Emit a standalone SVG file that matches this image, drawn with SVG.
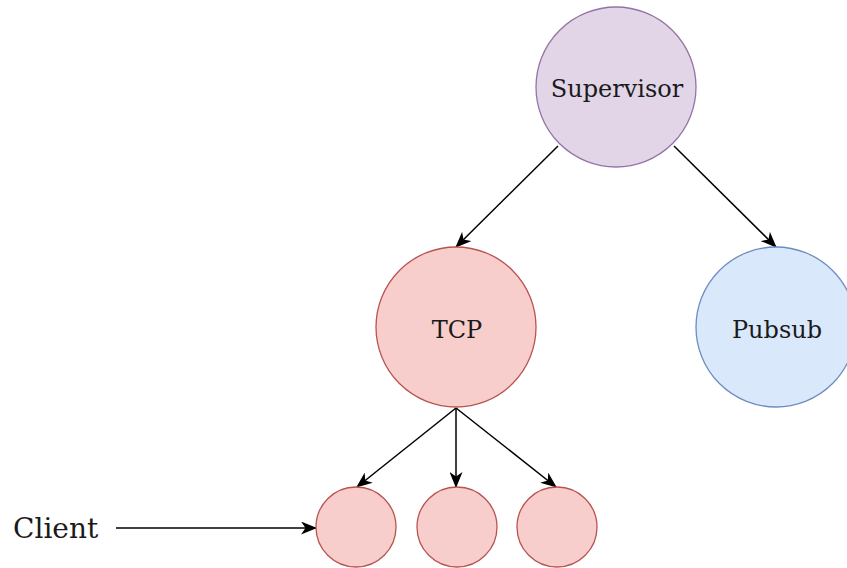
<svg xmlns="http://www.w3.org/2000/svg" width="847" height="568" viewBox="0 0 847 568">
<style>
.lbl{font-family:"DejaVu Serif","Liberation Serif",serif;font-size:24px;fill:#1a1a1a;text-anchor:middle}
.edge{stroke:#000;stroke-width:1.5;fill:none;marker-end:url(#arr)}
.red{fill:#f8cecc;stroke:#b85450;stroke-width:1.3}
</style>
<defs>
<marker id="arr" markerUnits="userSpaceOnUse" markerWidth="16" markerHeight="13" viewBox="0 0 16 13" refX="15" refY="6.5" orient="auto">
<path d="M0,0 L16,6.5 L0,13 L4.5,6.5 z" fill="#000"/>
</marker>
</defs>
<rect width="847" height="568" fill="#fff"/>
<g id="connectors">
<line class="edge" x1="558" y1="146" x2="456" y2="247"/>
<line class="edge" x1="674" y1="146" x2="776" y2="247"/>
<line class="edge" x1="456" y1="408" x2="357" y2="487"/>
<line class="edge" x1="456" y1="408" x2="456" y2="487"/>
<line class="edge" x1="456" y1="408" x2="556" y2="487"/>
<line class="edge" x1="116" y1="528" x2="316" y2="528"/>
</g>
<g id="supervisor">
<circle cx="616" cy="87" r="80" fill="#e1d5e7" stroke="#9673a6" stroke-width="1.3"/>
<text class="lbl" x="617" y="97">Supervisor</text>
</g>
<g id="tcp">
<circle class="red" cx="456" cy="327" r="80"/>
<text class="lbl" x="457" y="338">TCP</text>
</g>
<g id="pubsub">
<circle cx="776" cy="327" r="80" fill="#dae8fc" stroke="#6c8ebf" stroke-width="1.3"/>
<text class="lbl" x="777" y="338">Pubsub</text>
</g>
<g id="client1"><circle class="red" cx="356" cy="527" r="40"/></g>
<g id="client2"><circle class="red" cx="457" cy="527" r="40"/></g>
<g id="client3"><circle class="red" cx="557" cy="527" r="40"/></g>
<g id="client-label">
<text x="13" y="538" style="font-family:'DejaVu Serif','Liberation Serif',serif;font-size:28px;fill:#1a1a1a">Client</text>
</g>
</svg>
